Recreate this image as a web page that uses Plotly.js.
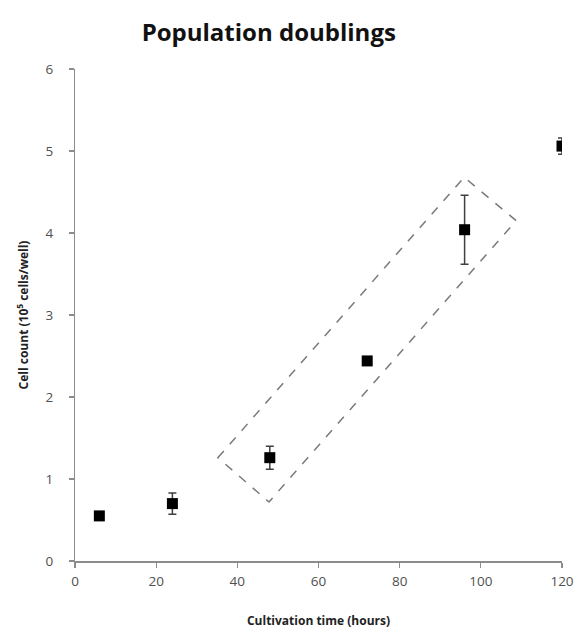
<!DOCTYPE html>
<html>
<head>
<meta charset="utf-8">
<script src="https://cdn.plot.ly/plotly-3.0.1.min.js"></script>
<style>html,body{margin:0;padding:0;background:#fff;}#chart{width:578px;height:635px;}</style>
</head>
<body>
<div id="chart"></div>
<script>
// Data
const hours = [6, 24, 48, 72, 96, 120];
const cellCount = [0.55, 0.70, 1.26, 2.44, 4.04, 5.06];
const errors = [0.03, 0.13, 0.14, 0.05, 0.42, 0.10];
const xTicks = [0, 20, 40, 60, 80, 100, 120];
const yTicks = [0, 1, 2, 3, 4, 5, 6];
// Dashed highlight box corners (data coordinates)
const boxX = [35.2, 95.9, 108.7, 47.8];
const boxY = [1.26, 4.68, 4.15, 0.72];

const boxPath = 'M ' + boxX.map((x, i) => x + ',' + boxY[i]).join(' L ') + ' Z';

const trace = {
  x: hours, y: cellCount, type: 'scatter', mode: 'markers',
  marker: {symbol: 'square', size: 11, color: '#000000'},
  error_y: {type: 'data', array: errors, visible: true, color: '#404040', thickness: 1.5, width: 4},
  showlegend: false
};

const axisCommon = {
  showgrid: false, zeroline: false, showline: true, linecolor: '#8c8c8c', linewidth: 1.5,
  ticks: 'outside', ticklen: 5, tickcolor: '#8c8c8c', tickwidth: 1.2,
  tickfont: {family: 'Open Sans, sans-serif', size: 13.5, color: '#505050'}
};

const layout = {
  width: 578, height: 635,
  margin: {l: 75, r: 16, t: 69, b: 74},
  paper_bgcolor: '#ffffff', plot_bgcolor: '#ffffff',
  title: {text: '<b>Population doublings</b>', x: 0.465, xanchor: 'center', y: 0.948, yanchor: 'middle', yref: 'container',
    font: {family: 'Open Sans, sans-serif', size: 24, color: '#111111'}},
  xaxis: Object.assign({}, axisCommon, {
    range: [0, 120], tickvals: xTicks, ticktext: xTicks.map(String), ticklabelstandoff: 2,
    title: {text: '<b>Cultivation time (hours)</b>', standoff: 28, font: {family: 'Open Sans, sans-serif', size: 12, color: '#222222'}}
  }),
  yaxis: Object.assign({}, axisCommon, {
    range: [0, 6], tickvals: yTicks, ticktext: yTicks.map(v => v + '\u00a0'), ticklabelstandoff: 9,
    title: {text: '<b>Cell count (10<sup>5</sup> cells/well)</b>', standoff: 14, font: {family: 'Open Sans, sans-serif', size: 12, color: '#222222'}}
  }),
  shapes: [{type: 'path', xref: 'x', yref: 'y', path: boxPath,
    line: {color: '#7a7a7a', width: 1.5, dash: 'dash'}, fillcolor: 'rgba(0,0,0,0)'}]
};

Plotly.newPlot('chart', [trace], layout, {displayModeBar: false, staticPlot: true});
</script>
</body>
</html>
